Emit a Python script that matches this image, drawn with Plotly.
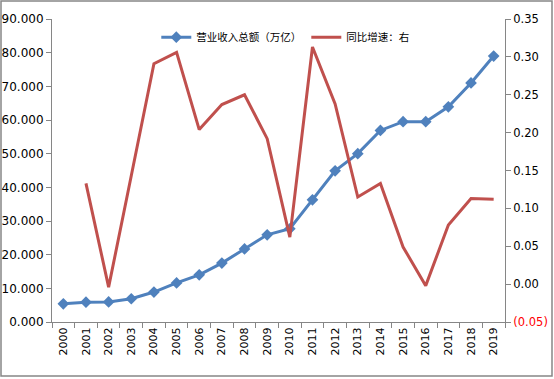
import plotly.graph_objects as go

years = [str(y) for y in range(2000, 2020)]
revenue = [5.4, 5.9, 5.95, 6.9, 8.9, 11.6, 14.0, 17.5, 21.7, 25.9,
           27.7, 36.3, 44.9, 50.0, 56.9, 59.5, 59.5, 63.9, 71.0, 79.0]
growth_years = years[1:]
growth = [0.133, -0.004, 0.143, 0.291, 0.306, 0.204, 0.237, 0.250, 0.192,
          0.062, 0.313, 0.238, 0.115, 0.133, 0.049, -0.002, 0.078, 0.113, 0.112]

left_ticks = [0, 10, 20, 30, 40, 50, 60, 70, 80, 90]
right_ticks = [-0.05, 0, 0.05, 0.10, 0.15, 0.20, 0.25, 0.30, 0.35]
right_text = ['<span style="color:#FF0000">(0.05)</span>', "0.00", "0.05", "0.10",
              "0.15", "0.20", "0.25", "0.30", "0.35"]

FONT = "DejaVu Sans"
AX = "#868686"

fig = go.Figure()
fig.add_trace(go.Scatter(
    x=years, y=revenue, name="营业收入总额（万亿）", mode="lines+markers",
    line=dict(color="#4F81BD", width=3),
    marker=dict(symbol="diamond", size=9, color="#4F81BD"),
))
fig.add_trace(go.Scatter(
    x=growth_years, y=growth, name="同比增速：右", mode="lines",
    line=dict(color="#C0504D", width=3), yaxis="y2",
))

fig.update_layout(
    width=554, height=379,
    margin=dict(l=52, r=49, t=19, b=57, autoexpand=False),
    paper_bgcolor="white", plot_bgcolor="white",
    font=dict(family=FONT, size=11, color="#000000"),
    showlegend=True,
    legend=dict(orientation="h", x=0.515, y=0.94, xanchor="center", yanchor="middle",
                font=dict(size=10.5, family="Noto Sans CJK SC", color="#000000"),
                bgcolor="rgba(0,0,0,0)", itemwidth=30, tracegroupgap=0),
    xaxis=dict(type="category", range=[-0.5, 19.5], tickangle=-90, automargin=False,
               showline=True, linecolor=AX, linewidth=1, mirror=False,
               ticks="outside", ticklen=5, tickcolor=AX, tickson="boundaries",
               showgrid=False, tickfont=dict(size=11, family=FONT)),
    yaxis=dict(range=[0, 90], tickvals=left_ticks, tickformat=".3f", automargin=False,
               showline=True, linecolor=AX, linewidth=1,
               ticks="outside", ticklen=5, tickcolor=AX,
               showgrid=False, zeroline=False, tickfont=dict(size=12, family=FONT)),
    yaxis2=dict(range=[-0.05, 0.35], overlaying="y", side="right", automargin=False,
                tickvals=right_ticks, ticktext=right_text,
                showline=True, linecolor=AX, linewidth=1,
                ticks="outside", ticklen=5, tickcolor=AX,
                showgrid=False, zeroline=False, tickfont=dict(size=11.5, family=FONT)),
    shapes=[dict(type="rect", xref="paper", yref="paper",
                 x0=(1 - 52) / 453, x1=(552 - 52) / 453,
                 y0=(322 - 376) / 303, y1=(322 - 1) / 303,
                 line=dict(color="#868686", width=1.5), layer="below")],
)

fig.write_html("out.html", config={"displayModeBar": False},
               post_script="document.body.style.margin='0';document.body.style.overflow='hidden';")
